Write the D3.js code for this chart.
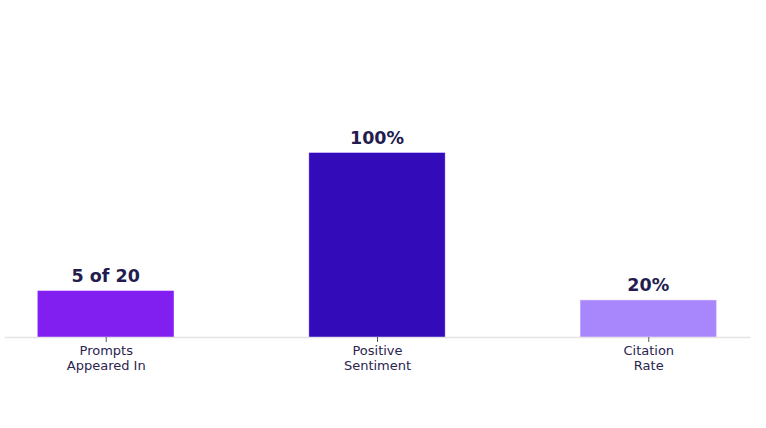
<!DOCTYPE html>
<html>
<head>
<meta charset="utf-8">
<script src="https://cdn.jsdelivr.net/npm/d3@7"></script>
<style>
  html, body { margin: 0; padding: 0; background: #fff; }
  svg { display: block; }
</style>
</head>
<body>
<svg id="chart" width="766" height="428"></svg>
<script>
// chart data
var categories = ['Prompts\nAppeared In', 'Positive\nSentiment', 'Citation\nRate'];
var values = [25, 100, 20];
var valueLabels = ['5 of 20', '100%', '20%'];
var barColors = ['#801ff0', '#330bb8', '#a886fc'];

var width = 766, height = 428;
var margin = {left: 4, right: 16, top: 107, bottom: 91};
var font = 'DejaVu Sans, Verdana, sans-serif';

var svg = d3.select('#chart');

// categorical x on a linear index scale so bar centres follow the reference spacing
var x = d3.scaleLinear()
    .domain([-0.375, categories.length - 1 + 0.375])
    .range([margin.left, width - margin.right]);
var barWidth = (x(1) - x(0)) * 0.5;

var y = d3.scaleLinear()
    .domain([0, 125])
    .range([height - margin.bottom, margin.top]);

// bars
svg.append('g')
    .selectAll('rect')
    .data(values)
    .enter()
    .append('rect')
    .attr('x', function (d, i) { return x(i) - barWidth / 2; })
    .attr('y', function (d) { return y(d); })
    .attr('width', barWidth)
    .attr('height', function (d) { return y(0) - y(d); })
    .attr('fill', function (d, i) { return barColors[i]; })
    .attr('stroke', function (d, i) { return d3.color(barColors[i]).brighter(0.4); })
    .attr('stroke-width', 0.6);

// x axis
var axis = d3.axisBottom(x)
    .tickValues(d3.range(categories.length))
    .tickSize(5)
    .tickSizeOuter(0)
    .tickFormat('');

var ax = svg.append('g')
    .attr('transform', 'translate(0,' + y(0) + ')')
    .call(axis);

ax.select('.domain').attr('stroke', '#e3e4e8').attr('stroke-width', 1.5);
ax.selectAll('.tick line').attr('stroke', '#555a66').attr('stroke-width', 1);

// two-line tick labels
ax.selectAll('.tick')
    .each(function (d) {
        var text = d3.select(this).append('text')
            .attr('fill', '#2a2450')
            .attr('font-family', font)
            .attr('font-size', 13)
            .attr('text-anchor', 'middle');
        text.selectAll('tspan')
            .data(categories[d].split('\n'))
            .enter()
            .append('tspan')
            .attr('x', 0)
            .attr('y', function (l, j) { return 18 + j * 15; })
            .text(function (l) { return l; });
    });

// value labels above bars
svg.append('g')
    .selectAll('text')
    .data(values)
    .enter()
    .append('text')
    .attr('x', function (d, i) { return x(i); })
    .attr('y', function (d) { return y(d) - 9; })
    .attr('text-anchor', 'middle')
    .attr('font-family', font)
    .attr('font-size', 17.5)
    .attr('font-weight', 'bold')
    .attr('fill', '#231c4f')
    .text(function (d, i) { return valueLabels[i]; });
</script>
</body>
</html>
